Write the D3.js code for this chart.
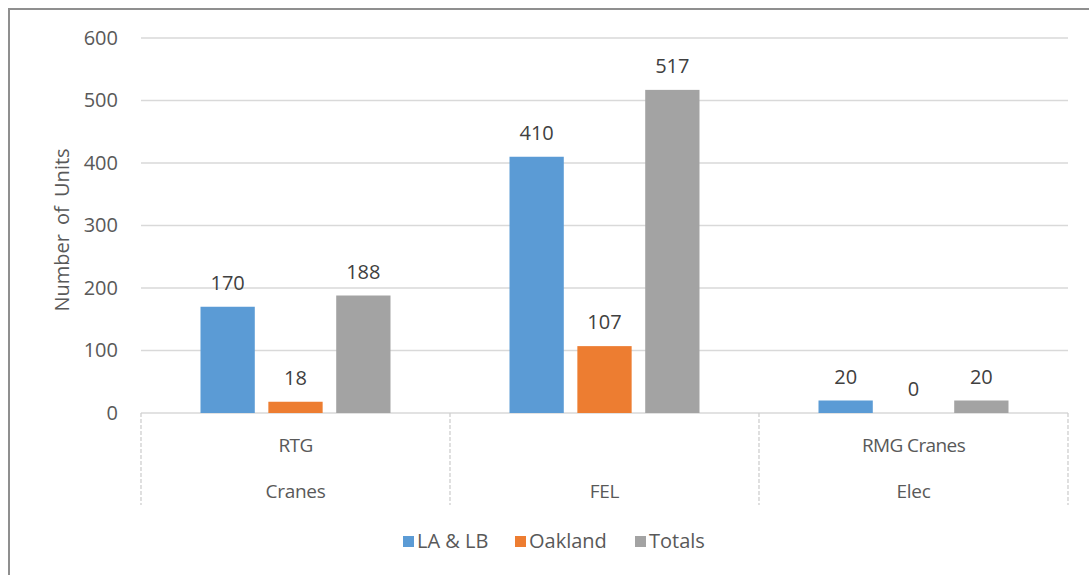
<!DOCTYPE html>
<html>
<head>
<meta charset="utf-8">
<script src="https://cdn.jsdelivr.net/npm/d3@7"></script>
<style>
  body { margin: 0; background: #fff; }
  svg text { font-family: "Open Sans", "Liberation Sans", sans-serif; fill: #595959; }
</style>
</head>
<body>
<script>
// data
const topLabels = ["RTG", "", "RMG Cranes"]
const bottomLabels = ["Cranes", "FEL", "Elec"]
const series = ["LA & LB", "Oakland", "Totals"]
const laLb = [170, 410, 20]
const oakland = [18, 107, 0]
const totals = [188, 517, 20]
const yTicks = [0, 100, 200, 300, 400, 500, 600]

const w = 1089
const h = 575
const colors = ["#5b9bd5", "#ed7d31", "#a3a3a3"]

const svg = d3.select("body").append("svg")
  .attr("width", w)
  .attr("height", h)

// outer border
svg.append("rect")
  .attr("x", 9).attr("y", 9)
  .attr("width", 1200).attr("height", 700)
  .attr("fill", "none")
  .attr("stroke", "#8f8f8f")
  .attr("stroke-width", 2)

const plotLeft = 141, plotRight = 1068, plotTop = 38, plotBottom = 413

const y = d3.scaleLinear().domain([0, 600]).range([plotBottom, plotTop])
const x0 = d3.scaleBand().domain(d3.range(3)).range([plotLeft, plotRight])
const x1 = d3.scaleBand().domain(series)
  .range([(x0.bandwidth() - 190) / 2, (x0.bandwidth() + 190) / 2])
  .paddingInner(0.2)

// gridlines
svg.append("g").selectAll("line")
  .data(yTicks)
  .enter().append("line")
  .attr("x1", plotLeft).attr("x2", plotRight)
  .attr("y1", d => y(d)).attr("y2", d => y(d))
  .attr("stroke", "#d9d9d9")
  .attr("stroke-width", 1.3)

// y axis labels
const yAxis = d3.axisLeft(y).tickValues(yTicks).tickSize(0).tickPadding(0)
const ga = svg.append("g")
  .attr("transform", "translate(118,0)")
  .call(yAxis)
ga.select(".domain").remove()
ga.selectAll("text")
  .style("font-size", "20px")
  .style("font-family", "'Open Sans', sans-serif")
  .style("fill", "#595959")

// y title
svg.append("text")
  .attr("transform", "translate(69,230) rotate(-90)")
  .attr("text-anchor", "middle")
  .style("font-size", "20px")
  .style("word-spacing", "4px")
  .text("Number of Units")

// bars
const rows = d3.range(3).map(i => ({
  i: i,
  vals: [laLb[i], oakland[i], totals[i]]
}))

const groups = svg.append("g").selectAll("g")
  .data(rows)
  .enter().append("g")
  .attr("transform", d => "translate(" + x0(d.i) + ",0)")

groups.selectAll("rect")
  .data(d => d.vals.map((v, k) => ({ k: k, v: v })))
  .enter().append("rect")
  .attr("x", d => x1(series[d.k]))
  .attr("width", x1.bandwidth())
  .attr("y", d => y(d.v))
  .attr("height", d => plotBottom - y(d.v))
  .attr("fill", d => colors[d.k])

groups.selectAll("text")
  .data(d => d.vals.map((v, k) => ({ k: k, v: v })))
  .enter().append("text")
  .attr("x", d => x1(series[d.k]) + x1.bandwidth() / 2)
  .attr("y", d => y(d.v) - 17)
  .attr("text-anchor", "middle")
  .style("font-size", "20px")
  .style("fill", "#404040")
  .text(d => d.v)

// category axis lines
svg.append("g").selectAll("line")
  .data([plotLeft, x0(1), x0(2), plotRight])
  .enter().append("line")
  .attr("x1", d => d).attr("x2", d => d)
  .attr("y1", plotBottom).attr("y2", 505)
  .attr("stroke", "#cfcfcf")
  .attr("stroke-width", 1.3)
  .attr("stroke-dasharray", "4,2")

svg.append("g").selectAll("text")
  .data(topLabels)
  .enter().append("text")
  .attr("x", (d, i) => x0(i) + x0.bandwidth() / 2)
  .attr("y", 452)
  .attr("text-anchor", "middle")
  .style("font-size", "19px")
  .style("letter-spacing", "-0.6px")
  .text(d => d)

svg.append("g").selectAll("text")
  .data(bottomLabels)
  .enter().append("text")
  .attr("x", (d, i) => x0(i) + x0.bandwidth() / 2)
  .attr("y", 498)
  .attr("text-anchor", "middle")
  .style("font-size", "19px")
  .style("letter-spacing", "-0.3px")
  .text(d => d)

// legend
const legX = [403, 515, 635]
const leg = svg.append("g").selectAll("g")
  .data(series)
  .enter().append("g")
  .attr("transform", (d, i) => "translate(" + legX[i] + ",536)")
leg.append("rect")
  .attr("width", 11).attr("height", 11)
  .attr("fill", (d, i) => colors[i])
leg.append("text")
  .attr("x", 14).attr("y", 12)
  .style("font-size", "20px")
  .text(d => d)
</script>
</body>
</html>
